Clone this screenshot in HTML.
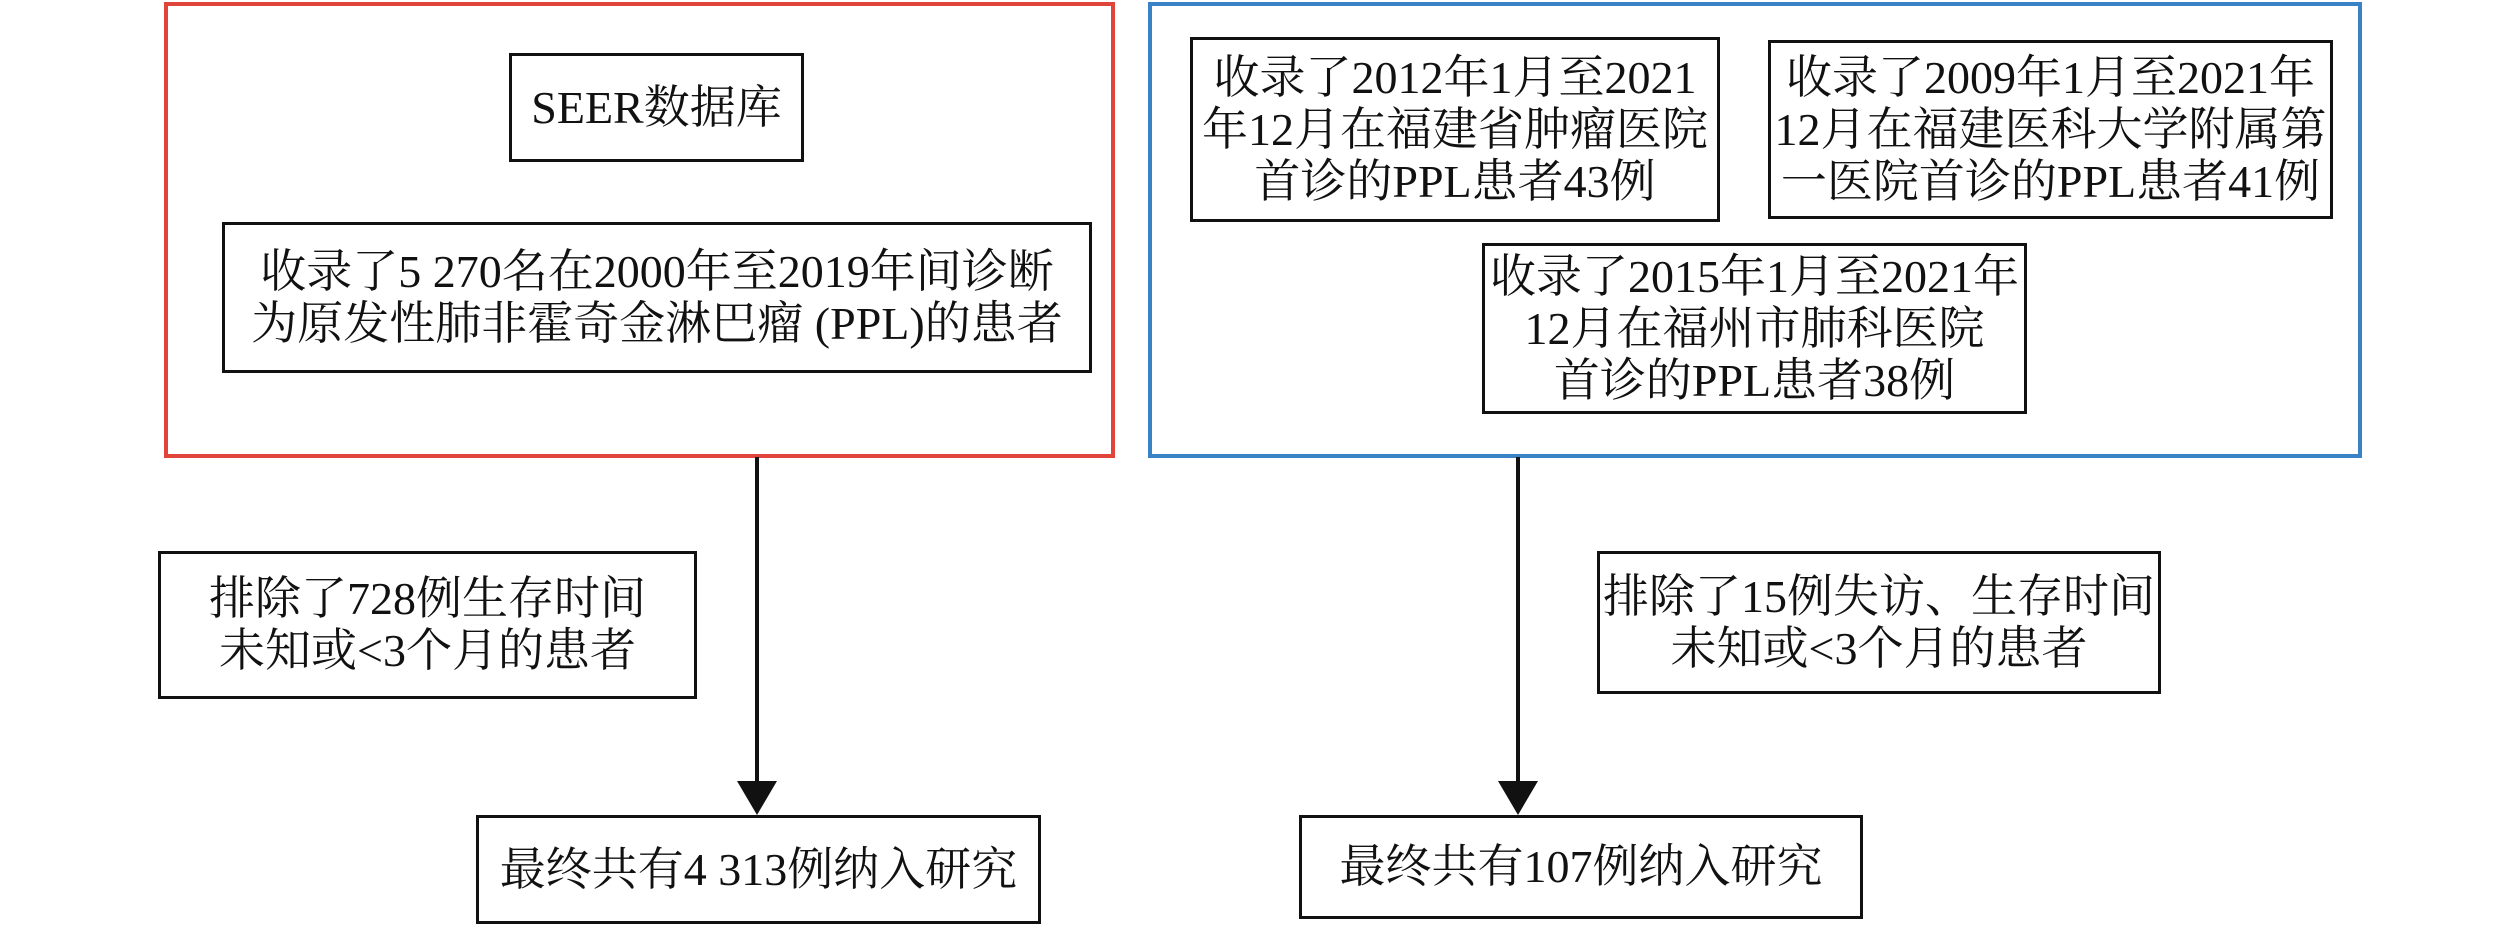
<!DOCTYPE html>
<html><head><meta charset="utf-8"><style>
html,body{margin:0;padding:0;background:#fff;}
body{width:2520px;height:928px;position:relative;overflow:hidden;font-family:"Liberation Serif","Noto Serif CJK SC",serif;color:#111;}
.b{position:absolute;box-sizing:border-box;border:3.5px solid #111;display:flex;align-items:center;justify-content:center;text-align:center;font-size:46px;line-height:52px;white-space:nowrap;}
.g{position:absolute;box-sizing:border-box;}
.v{position:absolute;width:3.5px;background:#111;}
.ah{position:absolute;width:0;height:0;border-left:20px solid transparent;border-right:20px solid transparent;border-top:34px solid #111;}
</style></head><body>
<div class="g" style="left:164px;top:2px;width:951px;height:456px;border:4px solid #e0443a;"></div>
<div class="g" style="left:1148px;top:2px;width:1214px;height:456px;border:4px solid #3a82c6;"></div>

<div class="b" style="left:509px;top:53px;width:295px;height:109px;">SEER数据库</div>
<div class="b" style="left:222px;top:222px;width:870px;height:151px;">收录了5 270名在2000年至2019年间诊断<br>为原发性肺非霍奇金淋巴瘤 (PPL)的患者</div>

<div class="b" style="left:1190px;top:37px;width:530px;height:185px;">收录了2012年1月至2021<br>年12月在福建省肿瘤医院<br>首诊的PPL患者43例</div>
<div class="b" style="left:1768px;top:40px;width:565px;height:179px;">收录了2009年1月至2021年<br>12月在福建医科大学附属第<br>一医院首诊的PPL患者41例</div>
<div class="b" style="left:1482px;top:243px;width:545px;height:171px;">收录了2015年1月至2021年<br>12月在福州市肺科医院<br>首诊的PPL患者38例</div>

<div class="v" style="left:755px;top:457px;height:325px;"></div>
<div class="ah" style="left:737px;top:781px;"></div>
<div class="v" style="left:1516px;top:457px;height:325px;"></div>
<div class="ah" style="left:1498px;top:781px;"></div>

<div class="b" style="left:158px;top:551px;width:539px;height:148px;">排除了728例生存时间<br>未知或&lt;3个月的患者</div>
<div class="b" style="left:1597px;top:551px;width:564px;height:143px;">排除了15例失访、生存时间<br>未知或&lt;3个月的患者</div>

<div class="b" style="left:476px;top:815px;width:565px;height:109px;">最终共有4 313例纳入研究</div>
<div class="b" style="left:1299px;top:815px;width:564px;height:104px;">最终共有107例纳入研究</div>
</body></html>
